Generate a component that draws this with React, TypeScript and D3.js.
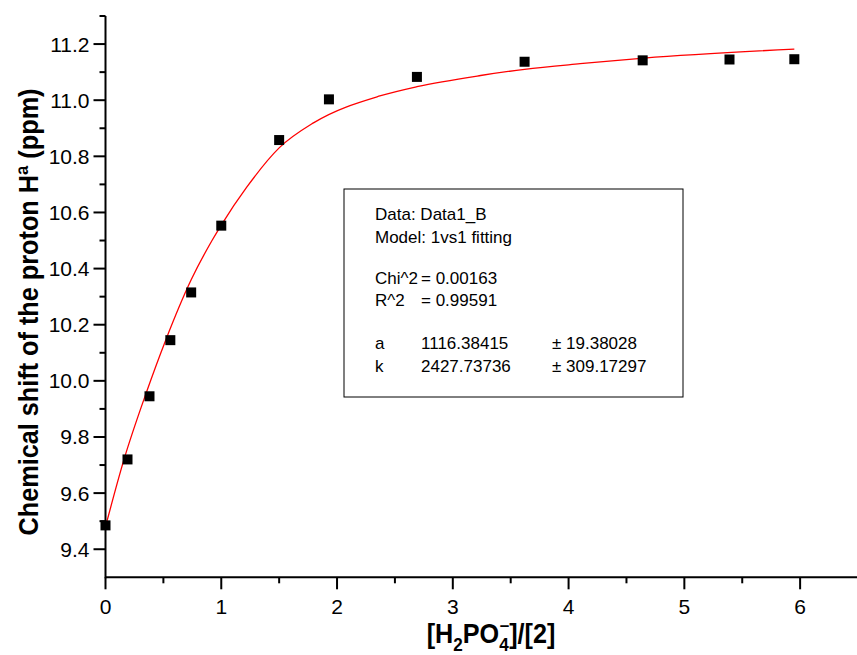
import React from 'react';
import * as d3 from 'd3';

const W = 857;
const H = 655;

// measured data points
const ratio = [0, 0.19, 0.38, 0.56, 0.74, 1.0, 1.5, 1.93, 2.69, 3.62, 4.64, 5.39, 5.95];
const shift = [9.485, 9.72, 9.945, 10.145, 10.315, 10.553, 10.858, 11.003, 11.083, 11.137, 11.142, 11.145, 11.146];

// fitted curve
const fitX = [0, 0.16, 0.35, 0.52, 0.74, 0.92, 1.0, 1.22, 1.5, 1.8, 2.37, 2.69, 3.24, 3.62, 4.1, 4.65, 5.95];
const fitY = [9.48, 9.72, 9.955, 10.145, 10.36, 10.5, 10.555, 10.69, 10.83, 10.92, 11.015, 11.048, 11.088, 11.11, 11.13, 11.15, 11.182];

const xTicks = [0, 1, 2, 3, 4, 5, 6];
const xMinor = [0.5, 1.5, 2.5, 3.5, 4.5, 5.5];
const yTicks = [9.4, 9.6, 9.8, 10.0, 10.2, 10.4, 10.6, 10.8, 11.0, 11.2];
const yMinor = [9.5, 9.7, 9.9, 10.1, 10.3, 10.5, 10.7, 10.9, 11.1, 11.3];

const legendLines = [
  ['Data: Data1_B', '', ''],
  ['Model: 1vs1 fitting', '', ''],
  ['', '', ''],
  ['Chi^2', '=  0.00163', ''],
  ['R^2', '=  0.99591', ''],
  ['', '', ''],
  ['a', '1116.38415', '\u00b1  19.38028'],
  ['k', '2427.73736', '\u00b1  309.17297'],
];

const FONT = "'Liberation Sans', Arial, sans-serif";

export default function App() {
  const x = d3.scaleLinear().domain([0, 6.5]).range([105.5, 858]);
  const y = d3.scaleLinear().domain([9.3, 11.3]).range([577.3, 16]);
  const line = d3
    .line<number>()
    .x((_, i) => x(fitX[i]))
    .y((d) => y(d))
    .curve(d3.curveMonotoneX);

  const x0 = x(0);
  const y0 = y(9.3);
  const ms = 10;

  const lineY = [220, 243, 264, 284, 306, 327, 349, 372];

  return (
    <svg width={W} height={H} style={{ position: 'absolute', left: 0, top: 0, background: '#fff' }} fontFamily={FONT}>
      <rect width={W} height={H} fill="#fff" />
      {/* fit curve */}
      <path d={line(fitY) || ''} fill="none" stroke="#ff0000" strokeWidth={1.3} />
      {/* points */}
      {ratio.map((r, i) => (
        <rect key={i} x={x(r) - ms / 2} y={y(shift[i]) - ms / 2} width={ms} height={ms} fill="#000" />
      ))}
      {/* axes */}
      <line x1={x0} x2={W} y1={y0} y2={y0} stroke="#000" strokeWidth={2} />
      <line x1={x0} x2={x0} y1={y(11.3)} y2={y0 + 1} stroke="#000" strokeWidth={2} />
      {xTicks.map((t) => (
        <g key={'xt' + t}>
          <line x1={x(t)} x2={x(t)} y1={y0} y2={y0 + 12} stroke="#000" strokeWidth={2} />
          <text x={x(t)} y={y0 + 37} textAnchor="middle" fontSize={21}>{t}</text>
        </g>
      ))}
      {xMinor.map((t) => (
        <line key={'xm' + t} x1={x(t)} x2={x(t)} y1={y0} y2={y0 + 6} stroke="#000" strokeWidth={2} />
      ))}
      {yTicks.map((t) => (
        <g key={'yt' + t}>
          <line x1={x0 - 12} x2={x0} y1={y(t)} y2={y(t)} stroke="#000" strokeWidth={2} />
          <text x={x0 - 16} y={y(t) + 7.5} textAnchor="end" fontSize={21}>
            {t.toFixed(1)}
          </text>
        </g>
      ))}
      {yMinor.map((t) => (
        <line key={'ym' + t} x1={x0 - 6} x2={x0} y1={y(t)} y2={y(t)} stroke="#000" strokeWidth={2} />
      ))}
      {/* y label */}
      <text
        transform="translate(38,312) rotate(-90)"
        textAnchor="middle"
        fontSize={27}
        fontWeight="bold"
        textLength={447}
        lengthAdjust="spacingAndGlyphs"
      >
        Chemical shift of the proton H{'\u00aa'} (ppm)
      </text>
      {/* x label */}
      <g transform="translate(491,0) scale(0.9,1)">
        <text x={0} y={643} textAnchor="middle" fontSize={28} fontWeight="bold">
          [H<tspan fontSize={19} dy={8}>2</tspan>
          <tspan dy={-8}>PO</tspan>
          <tspan fontSize={19} dy={8}>4</tspan>
          <tspan fontSize={19} dy={-20} dx={-10}>{'\u2013'}</tspan>
          <tspan dy={12}>]/[2]</tspan>
        </text>
      </g>
      {/* legend box */}
      <rect x={344} y={189} width={339} height={208} fill="#fff" stroke="#000" strokeWidth={1} />
      {legendLines.map((l, i) => (
        <g key={'lg' + i} fontSize={17}>
          <text x={375} y={lineY[i]}>{l[0]}</text>
          {l[1] && <text x={421} y={lineY[i]}>{l[1]}</text>}
          {l[2] && <text x={552} y={lineY[i]}>{l[2]}</text>}
        </g>
      ))}
    </svg>
  );
}
